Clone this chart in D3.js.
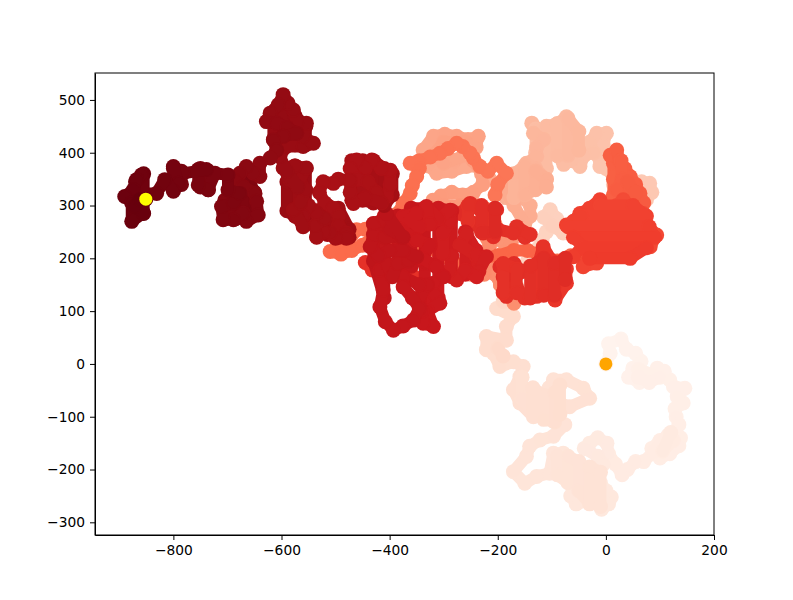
<!DOCTYPE html>
<html>
<head>
<meta charset="utf-8">
<script src="https://cdn.jsdelivr.net/npm/d3@7"></script>
<style>
  body { margin: 0; background: #fff; }
  text { font-family: "DejaVu Sans", sans-serif; }
</style>
</head>
<body>
<div id="chart"></div>
<script>
// walk, leg by leg, in plotting order
const paleLoop = [[0,0],[8,20],[5,38],[28,47],[38,28],[55,20],[65,5],[50,-8],[42,-25],[62,-35],[72,-28],[90,-22],[108,-14],[95,-8],[118,-30],[125,-43],[146,-46],[132,-62],[143,-74],[128,-85],[130,-100],[135,-115],[128,-130],[138,-140],[135,-155],[118,-170],[100,-178],[85,-160],[100,-145],[115,-135],[90,-165],[70,-185],[55,-185],[40,-200],[30,-210],[18,-190],[5,-170],[2,-150],[-15,-140],[-30,-150],[-40,-160],[-15,-175],[-5,-190],[-20,-205],[-10,-225],[0,-240],[10,-252],[-8,-275],[5,-265],[-25,-258],[-55,-265],[-65,-250],[-40,-235],[-70,-220],[-85,-205],[-60,-195],[-79,-169],[-97,-169],[-104,-207],[-128,-213],[-150,-226],[-171,-204],[-147,-175],[-141,-156],[-122,-144],[-97,-137],[-76,-115],[-97,-106],[-122,-93],[-122,-62],[-105,-45],[-97,-30],[-73,-30],[-42,-46],[-30,-65],[-67,-81],[-85,-74],[-104,-87],[-134,-100],[-159,-74],[-171,-49],[-159,-24],[-153,-5],[-171,4],[-196,-5],[-208,20],[-221,27],[-221,52],[-184,45],[-184,71],[-171,90],[-202,105]];
const paleTopBlob = [[60,-10],[100,-25],[80,-35],[60,-25]];
const paleSideBlob = [[125,-145],[105,-165],[120,-130]];
const paleBottomBlob = [[-90,-175],[-90,-210],[-70,-225],[-70,-175],[-50,-185],[-50,-240],[-30,-265],[-30,-195],[-10,-205],[-10,-270]];
const paleMidBlob = [[-155,-25],[-155,-65],[-135,-95],[-135,-45],[-115,-60],[-115,-105],[-95,-110],[-95,-55],[-85,-40],[-85,-95]];
const paleNeckBlob = [[-200,30],[-190,15]];
const lightLeg = [[-190,118],[-171,128],[-165,148],[-178,165],[-160,180],[-145,195],[-130,215],[-118,235],[-110,250],[-95,262],[-91,275],[-103,292],[-115,278],[-100,262],[-79,248],[-62,262],[-40,275],[-20,290],[0,300],[14,320],[14,340],[30,350],[50,335],[66,345],[81,342],[85,325],[75,311],[58,318],[40,340],[14,355],[0,370],[-11,374],[-15,395],[-5,415],[1,437],[-17,437],[-30,420],[-22,400],[-40,395],[-48,374],[-62,385],[-78,378],[-90,395],[-76,410],[-60,430],[-72,452],[-73,468],[-90,455],[-100,440],[-118,440],[-137,456]];
const lightBlob = [[-130,445],[-130,400],[-110,370],[-110,450],[-90,455],[-90,395],[-70,395],[-70,465],[-50,440],[-50,405]];
const salmonLeg = [[-134,437],[-115,425],[-128,410],[-128,393],[-147,380],[-130,370],[-110,350],[-128,340],[-150,345],[-171,336],[-185,315],[-160,320],[-140,300],[-140,280],[-150,265],[-170,300],[-190,335],[-215,350],[-233,374],[-258,374],[-285,365],[-313,361],[-328,375],[-338,405],[-319,431],[-298,435],[-276,431],[-255,425],[-236,431],[-240,410],[-262,400],[-245,385],[-230,360],[-228,340],[-245,325],[-265,320],[-285,325],[-305,318],[-320,310],[-300,300],[-270,300],[-240,300],[-215,290],[-205,265],[-215,245],[-195,235],[-175,230],[-190,210],[-205,195],[-205,170],[-195,150],[-180,140],[-160,135],[-170,115],[-195,150],[-215,200],[-245,185],[-250,170],[-225,170],[-215,225],[-235,260],[-225,295]];
const salmonBlob = [[-170,315],[-170,360],[-150,375],[-150,320],[-130,330],[-130,365],[-110,350],[-110,335]];
const ringBlob = [[-280,385],[-260,395],[-300,380],[-320,395],[-300,420],[-260,420]];
const orangeLeg = [[-205,320],[-200,340],[-184,361],[-202,380],[-218,365],[-233,374],[-245,390],[-251,399],[-265,412],[-276,418],[-292,408],[-307,399],[-325,392],[-345,385],[-362,380],[-345,370],[-350,355],[-358,338],[-362,323],[-375,304],[-385,285],[-400,270],[-425,262],[-445,255],[-461,254],[-480,225],[-495,220],[-510,213],[-490,208],[-470,215],[-450,225],[-430,240],[-410,235],[-390,225],[-365,220],[-340,225],[-315,215],[-290,200],[-265,185],[-235,200],[-200,205],[-170,215],[-145,215],[-115,205],[-90,195],[-65,205],[-40,205],[-20,205],[0,215],[10,235],[5,260],[-10,280],[0,300],[14,320],[14,350],[14,380],[8,395],[20,405],[25,385],[35,370],[45,355],[55,340],[63,323],[70,305],[50,310],[30,320]];
const orangeBlob = [[28,385],[30,350],[20,330],[45,330],[40,345],[55,325]];
const rightCluster = [[20,300],[32,311],[50,295],[69,285],[75,265],[94,244],[82,222],[70,240],[55,225],[38,203],[20,215],[30,240],[10,245],[-5,225],[-17,191],[-42,184],[-30,210],[-20,240],[-10,270],[-11,311],[-30,295],[-48,285],[-60,270],[-73,263],[-55,250],[-35,260],[-20,225],[-42,225],[-60,203]];
const rightBlob = [[-10,300],[50,300],[75,280],[-45,280],[-70,260],[80,260],[90,240],[-60,240],[-40,220],[75,220],[45,200],[-30,200]];
const redLeg = [[-73,180],[-73,153],[-94,121],[-95,145],[-85,170],[-100,195],[-116,222],[-125,190],[-105,175],[-128,165],[-128,128],[-150,125],[-165,145],[-184,128],[-175,155],[-155,175],[-170,190],[-196,184],[-180,170],[-190,165]];
const redLowerBlob = [[-190,135],[-190,190],[-165,180],[-165,135],[-140,125],[-140,185],[-115,200],[-115,130],[-95,130],[-95,190],[-75,200],[-75,160]];
const redUpperLeg = [[-150,240],[-140,245],[-165,260],[-171,248],[-200,255],[-208,241],[-215,265],[-202,292],[-227,285],[-251,304],[-270,285],[-240,265],[-227,248]];
const redUpperBlob = [[-255,270],[-255,300],[-230,300],[-230,250],[-205,250],[-205,295]];
const redPatchA = [[-445,192],[-432,178]];
const redPatchB = [[-369,175],[-355,165]];
const centreBlob = [[-240,175],[-240,215],[-260,250],[-260,170],[-285,165],[-285,290],[-310,295],[-310,125],[-335,95],[-335,150],[-335,190],[-335,295],[-360,295],[-360,185],[-385,190],[-385,280],[-410,280],[-410,125],[-430,195],[-430,265]];
const centreLeg = [[-258,247],[-270,225],[-240,205],[-221,203],[-235,175],[-239,165],[-260,178],[-276,159],[-290,175],[-285,205],[-301,209],[-301,247],[-288,270],[-288,291],[-310,275],[-332,298],[-325,265],[-345,260],[-375,279],[-350,285],[-380,255],[-350,235],[-325,225],[-340,200],[-315,185],[-300,165],[-319,153],[-332,140],[-315,130],[-307,115],[-330,100],[-319,71],[-338,77],[-340,100],[-345,125],[-330,150],[-345,150],[-375,165],[-375,146],[-358,125],[-345,105],[-356,83],[-375,72],[-393,64],[-408,80],[-418,108],[-412,140],[-418,178],[-405,190],[-395,165],[-385,190],[-365,195],[-350,203],[-375,215],[-400,215],[-420,205],[-436,222],[-430,245],[-410,240],[-381,241],[-395,260],[-430,266],[-410,275],[-400,255],[-375,240],[-406,285]];
const upperBlob = [[-470,310],[-470,385],[-450,385],[-450,310],[-430,305],[-430,385],[-410,370],[-410,300],[-395,320],[-395,360]];
const lowerBlob = [[-535,240],[-535,290],[-515,300],[-515,245],[-495,240],[-495,295],[-475,255],[-475,240]];
const sideBlob = [[-575,280],[-575,375],[-555,370],[-555,265],[-590,290],[-590,345]];
const peakBlob = [[-615,425],[-615,470],[-595,495],[-595,420],[-575,415],[-575,470],[-555,450],[-555,415]];
const upperLeg = [[-406,317],[-399,340],[-399,367],[-415,370],[-433,386],[-445,370],[-461,386],[-473,370],[-460,350],[-440,345],[-425,325],[-415,305],[-445,315],[-467,304],[-473,325],[-473,348],[-495,350],[-504,342],[-523,345],[-530,325],[-520,305],[-505,295],[-495,280],[-495,262],[-480,248],[-480,238],[-500,238],[-510,248],[-522,250],[-535,241],[-538,262],[-520,275],[-535,286],[-550,300],[-560,280],[-572,279],[-560,260],[-578,292],[-565,305],[-555,330],[-566,349],[-554,371],[-575,375],[-597,371],[-585,349],[-570,335],[-590,365],[-603,393],[-591,412],[-560,412],[-541,418],[-560,431],[-554,456],[-572,456],[-578,481],[-588,494],[-597,510],[-606,491],[-621,475],[-628,459],[-609,456],[-590,448],[-572,437],[-597,431],[-615,424],[-609,405],[-621,390]];
const darkBlobA = [[-705,275],[-705,310],[-685,345],[-685,275],[-665,275],[-665,360],[-650,325],[-650,285]];
const darkBlobB = [[-750,335],[-750,370],[-735,365],[-735,330]];
const darkBlobC = [[-800,330],[-800,370],[-785,365],[-785,340]];
const darkBlobD = [[-870,285],[-870,345],[-855,360],[-855,285]];
const darkLeg = [[-640,380],[-640,355],[-652,361],[-665,374],[-677,361],[-689,349],[-671,336],[-649,323],[-646,308],[-643,282],[-665,270],[-671,286],[-689,273],[-708,273],[-711,298],[-689,305],[-677,323],[-699,330],[-699,358],[-723,361],[-736,330],[-754,339],[-754,368],[-739,368],[-782,361],[-800,374],[-791,342],[-800,327],[-816,349],[-831,323],[-856,323],[-859,358],[-868,349],[-874,330],[-890,317],[-877,305],[-877,270],[-856,286],[-871,298],[-862,311],[-851,312]];

// where each leg sits on the colour ramp, from first point to last
const legs = [paleLoop, paleTopBlob, paleSideBlob, paleBottomBlob, paleMidBlob, paleNeckBlob, lightLeg, lightBlob, salmonLeg, salmonBlob, ringBlob, orangeLeg, orangeBlob, rightCluster, rightBlob, redLeg, redLowerBlob, redUpperLeg, redUpperBlob, redPatchA, redPatchB, centreBlob, centreLeg, upperBlob, lowerBlob, sideBlob, peakBlob, upperLeg, darkBlobA, darkBlobB, darkBlobC, darkBlobD, darkLeg];
const legShades = [[0.01,0.14],[0.03,0.035],[0.06,0.065],[0.1,0.11],[0.12,0.13],[0.14,0.145],[0.15,0.26],[0.24,0.26],[0.26,0.40],[0.27,0.29],[0.31,0.33],[0.46,0.54],[0.53,0.54],[0.58,0.62],[0.6,0.63],[0.64,0.68],[0.66,0.68],[0.66,0.68],[0.66,0.69],[0.66,0.66],[0.66,0.66],[0.72,0.79],[0.72,0.8],[0.86,0.875],[0.875,0.885],[0.89,0.9],[0.905,0.915],[0.84,0.92],[0.94,0.95],[0.955,0.96],[0.965,0.97],[0.98,0.99],[0.92,1]];

const xTicks = [-800, -600, -400, -200, 0, 200];
const yTicks = [-300, -200, -100, 0, 100, 200, 300, 400, 500];
const redsStops = ['#fff5f0', '#fee0d2', '#fcbba1', '#fc9272', '#fb6a4a', '#ef3b2c', '#cb181d', '#a50f15', '#67000d'];

const margin = {top: 73, right: 79, bottom: 65, left: 95};
const width = 793 - margin.left - margin.right;
const height = 600 - margin.top - margin.bottom;

const svg = d3.select('#chart')
    .append('svg')
    .attr('width', 793)
    .attr('height', 600)
    .append('g')
    .attr('transform', `translate(${margin.left},${margin.top})`);

const x = d3.scaleLinear().domain([-945, 200]).range([0, width]);
const y = d3.scaleLinear().domain([-324, 551]).range([height, 0]);
const reds = d3.scaleLinear().domain(redsStops.map((c, i) => i / 8)).range(redsStops);

// each step is a thick round-capped segment from the previous point with a dot on its end, later ones on top
legs.forEach((leg, k) => {
    const shade = d3.scaleLinear().domain([0, leg.length - 1]).range(legShades[k]);
    const g = svg.append('g');
    leg.forEach((d, i) => {
        const prev = leg[Math.max(i - 1, 0)];
        g.append('line')
            .attr('x1', x(prev[0]))
            .attr('y1', y(prev[1]))
            .attr('x2', x(d[0]))
            .attr('y2', y(d[1]))
            .attr('stroke', reds(shade(i)))
            .attr('stroke-width', 12)
            .attr('stroke-linecap', 'round');
        g.append('circle')
            .attr('cx', x(d[0]))
            .attr('cy', y(d[1]))
            .attr('r', 7.5)
            .attr('fill', reds(shade(i)));
    });
});

// start and end markers
const first = paleLoop[0];
const last = darkLeg[darkLeg.length - 1];
svg.append('circle').attr('cx', x(first[0])).attr('cy', y(first[1])).attr('r', 6.5).attr('fill', 'orange');
svg.append('circle').attr('cx', x(last[0])).attr('cy', y(last[1])).attr('r', 6.5).attr('fill', 'yellow');

// axes
const xAxis = svg.append('g')
    .attr('transform', `translate(0,${height})`)
    .call(d3.axisBottom(x).tickValues(xTicks).tickSize(5).tickPadding(5).tickSizeOuter(0));
const yAxis = svg.append('g')
    .call(d3.axisLeft(y).tickValues(yTicks).tickSize(5).tickPadding(5).tickSizeOuter(0));
[xAxis, yAxis].forEach(a => {
    a.selectAll('text').style('font-size', '13.8px').style('font-family', '"DejaVu Sans"').attr('fill', '#000');
    a.selectAll('line, path').attr('stroke', '#000').attr('stroke-width', 1);
});

// frame
svg.append('rect')
    .attr('width', width)
    .attr('height', height)
    .attr('fill', 'none')
    .attr('stroke', '#000')
    .attr('stroke-width', 1);
</script>
</body>
</html>
